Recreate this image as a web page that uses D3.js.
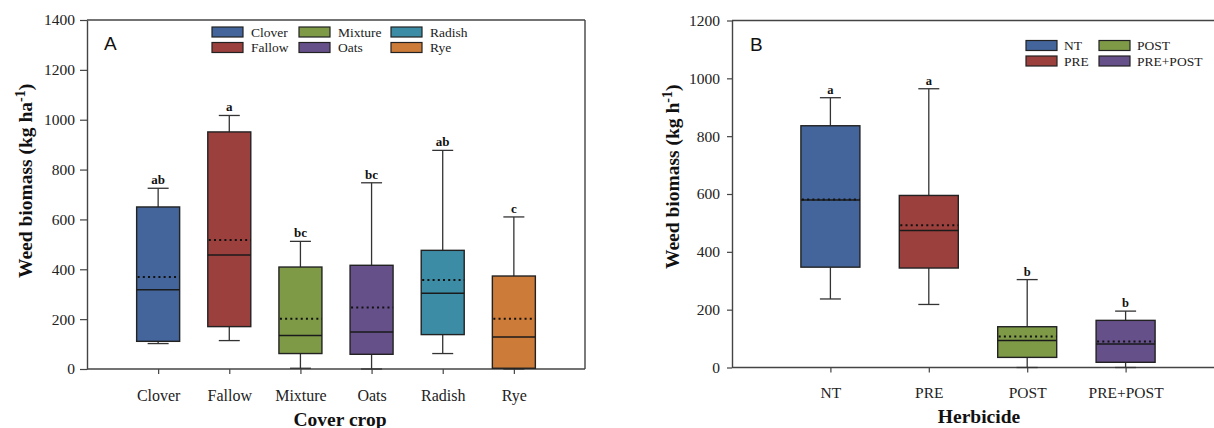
<!DOCTYPE html>
<html>
<head>
<meta charset="utf-8">
<script src="https://cdn.jsdelivr.net/npm/d3@7"></script>
<style>
  html, body { margin: 0; padding: 0; background: #fff; }
  svg { display: block; }
  svg text { font-family: "Liberation Serif", "Times New Roman", serif; fill: #111; }
</style>
</head>
<body>
<svg id="chart" width="1214" height="428"></svg>
<script>
// ---------- Panel A data (cover crop) ----------
const catsA = ["Clover", "Fallow", "Mixture", "Oats", "Radish", "Rye"];
const lowA = [102, 114, 3, 0, 62, 0];
const q1A = [111, 170, 62, 59, 138, 3];
const medianA = [318, 457, 134, 148, 304, 128];
const meanA = [369, 517, 202, 247, 357, 202];
const q3A = [650, 951, 409, 416, 476, 373];
const highA = [725, 1017, 512, 747, 877, 610];
const lettersA = ["ab", "a", "bc", "bc", "ab", "c"];
const colorsA = ["#43659b", "#9b403d", "#7e9a47", "#66508a", "#3c8ca5", "#cd7b38"];
const ticksA = [0, 200, 400, 600, 800, 1000, 1200, 1400];

// ---------- Panel B data (herbicide) ----------
const catsB = ["NT", "PRE", "POST", "PRE+POST"];
const lowB = [237, 218, 0, 0];
const q1B = [347, 344, 35, 18];
const medianB = [579, 474, 93, 81];
const meanB = [581, 492, 107, 90];
const q3B = [836, 595, 141, 163];
const highB = [933, 964, 304, 195];
const lettersB = ["a", "a", "b", "b"];
const colorsB = ["#43659b", "#9b403d", "#7e9a47", "#66508a"];
const ticksB = [0, 200, 400, 600, 800, 1000, 1200];

const svg = d3.select("#chart");
const SERIF = '"Liberation Serif", "Times New Roman", serif';

function panel(cfg) {
  const g = svg.append("g");
  const x = d3.scalePoint().domain(cfg.cats).range([cfg.left, cfg.right]).padding(1);
  const y = d3.scaleLinear().domain([0, cfg.ymax]).range([cfg.bottom, cfg.top]);

  // frame (top & right)
  g.append("line").attr("x1", cfg.left).attr("x2", cfg.right).attr("y1", cfg.top).attr("y2", cfg.top)
    .attr("stroke", "#444").attr("stroke-width", 1.4);
  g.append("line").attr("x1", cfg.right).attr("x2", cfg.right).attr("y1", cfg.top).attr("y2", cfg.bottom)
    .attr("stroke", "#444").attr("stroke-width", 1.4);

  // y axis
  const ya = g.append("g").attr("transform", `translate(${cfg.left},0)`)
    .call(d3.axisLeft(y).tickValues(cfg.ticks).tickFormat(d3.format("d"))
      .tickSize(cfg.ytick).tickPadding(cfg.ypad).tickSizeOuter(0));
  ya.attr("font-family", null).attr("font-size", null);
  ya.select(".domain").attr("stroke", "#444").attr("stroke-width", 1.4);
  ya.selectAll(".tick line").attr("stroke", "#444").attr("stroke-width", 1.2);
  ya.selectAll("text").style("font-size", cfg.tickFont + "px").style("font-family", SERIF).style("fill", "#222");

  // x axis
  const xa = g.append("g").attr("transform", `translate(0,${cfg.bottom})`)
    .call(d3.axisBottom(x).tickSize(5).tickPadding(cfg.xpad).tickSizeOuter(0));
  xa.attr("font-family", null).attr("font-size", null);
  xa.select(".domain").attr("stroke", "#444").attr("stroke-width", 1.4)
    .attr("d", `M${cfg.left},0H${cfg.right}`);
  xa.selectAll(".tick line").attr("stroke", "#444").attr("stroke-width", 1.2);
  xa.selectAll("text").style("font-size", cfg.xFont + "px").style("font-family", SERIF).style("fill", "#222");

  const bw = cfg.boxW, cw = 21;
  const items = cfg.cats.map((c, i) => ({
    c, low: cfg.low[i], q1: cfg.q1[i], med: cfg.median[i], mean: cfg.mean[i],
    q3: cfg.q3[i], high: cfg.high[i], letter: cfg.letters[i], color: cfg.colors[i]
  }));
  const b = g.selectAll(".box").data(items).enter().append("g");
  // whiskers
  b.append("line").attr("x1", d => x(d.c)).attr("x2", d => x(d.c))
    .attr("y1", d => y(d.low)).attr("y2", d => y(d.q1)).attr("stroke", "#333").attr("stroke-width", 1.3);
  b.append("line").attr("x1", d => x(d.c)).attr("x2", d => x(d.c))
    .attr("y1", d => y(d.q3)).attr("y2", d => y(d.high)).attr("stroke", "#333").attr("stroke-width", 1.3);
  b.append("line").attr("x1", d => x(d.c) - cw / 2).attr("x2", d => x(d.c) + cw / 2)
    .attr("y1", d => y(d.high)).attr("y2", d => y(d.high)).attr("stroke", "#333").attr("stroke-width", 1.3);
  b.append("line").attr("x1", d => x(d.c) - cw / 2).attr("x2", d => x(d.c) + cw / 2)
    .attr("y1", d => y(d.low)).attr("y2", d => y(d.low)).attr("stroke", "#333").attr("stroke-width", 1.3);
  // box
  b.append("rect").attr("x", d => x(d.c) - bw / 2).attr("width", bw)
    .attr("y", d => y(d.q3)).attr("height", d => y(d.q1) - y(d.q3))
    .attr("fill", d => d.color).attr("stroke", "#222").attr("stroke-width", 1.4);
  // median
  b.append("line").attr("x1", d => x(d.c) - bw / 2).attr("x2", d => x(d.c) + bw / 2)
    .attr("y1", d => y(d.med)).attr("y2", d => y(d.med)).attr("stroke", "#1a1a1a").attr("stroke-width", 1.5);
  // mean (dotted)
  b.append("line").attr("x1", d => x(d.c) - bw / 2 + 1).attr("x2", d => x(d.c) + bw / 2)
    .attr("y1", d => y(d.mean)).attr("y2", d => y(d.mean)).attr("stroke", "#111")
    .attr("stroke-width", 2).attr("stroke-dasharray", "2,3.2");
  // letters
  b.append("text").attr("x", d => x(d.c)).attr("y", d => y(d.high) - 4)
    .attr("text-anchor", "middle").style("font-weight", "bold").style("font-size", cfg.letterFont + "px")
    .text(d => d.letter);

  // panel label
  g.append("text").attr("x", cfg.left + cfg.labelDx).attr("y", cfg.top + 30)
    .style("font-family", '"Liberation Sans", Arial, sans-serif').style("font-size", "19px")
    .text(cfg.label);

  // x title
  g.append("text").attr("x", cfg.xTitleX).attr("y", cfg.xTitleY).attr("text-anchor", "middle")
    .style("font-weight", "bold").style("font-size", "19.5px").text(cfg.xTitle);

  // y title
  const yt = g.append("text")
    .attr("transform", `translate(${cfg.yTitleX},${cfg.yTitleY}) rotate(-90)`)
    .style("font-weight", "bold").style("font-size", "19.5px");
  yt.append("tspan").text(cfg.yTitle);
  yt.append("tspan").attr("dy", -7.5).style("font-size", "14px").text("-1");
  yt.append("tspan").attr("dy", 7.5).text(")");

  // legend
  const lg = g.append("g");
  cfg.cats.forEach((c, i) => {
    const col = Math.floor(i / 2), row = i % 2;
    const lx = cfg.legX[col], ly = cfg.legY + row * cfg.legRow;
    lg.append("rect").attr("x", lx).attr("y", ly).attr("width", 31).attr("height", 10)
      .attr("fill", cfg.colors[i]).attr("stroke", "#222").attr("stroke-width", 1.2);
    lg.append("text").attr("x", lx + cfg.legTextDx).attr("y", ly + 9.5).style("font-size", "13.5px")
      .style("fill", "#222").text(c);
  });
}

panel({
  cats: catsA, low: lowA, q1: q1A, median: medianA, mean: meanA, q3: q3A, high: highA,
  letters: lettersA, colors: colorsA, ticks: ticksA, ymax: 1400,
  left: 87, right: 585, top: 20, bottom: 369, boxW: 43,
  ytick: 7, ypad: 5, tickFont: 15.5, xFont: 16, xpad: 16, letterFont: 13,
  label: "A", labelDx: 17,
  xTitle: "Cover crop", xTitleX: 340, xTitleY: 426,
  yTitle: "Weed biomass (kg ha", yTitleX: 32, yTitleY: 278,
  legX: [212, 299, 391], legY: 27, legRow: 15.5, legTextDx: 39
});

panel({
  cats: catsB, low: lowB, q1: q1B, median: medianB, mean: meanB, q3: q3B, high: highB,
  letters: lettersB, colors: colorsB, ticks: ticksB, ymax: 1200,
  left: 732, right: 1224, top: 20.5, bottom: 367.5, boxW: 59,
  ytick: 5, ypad: 7, tickFont: 15.5, xFont: 15.5, xpad: 14, letterFont: 12.5,
  label: "B", labelDx: 18,
  xTitle: "Herbicide", xTitleX: 979, xTitleY: 423,
  yTitle: "Weed biomass (kg h", yTitleX: 679, yTitleY: 269,
  legX: [1026, 1099], legY: 40.5, legRow: 15.5, legTextDx: 38
});
</script>
</body>
</html>
